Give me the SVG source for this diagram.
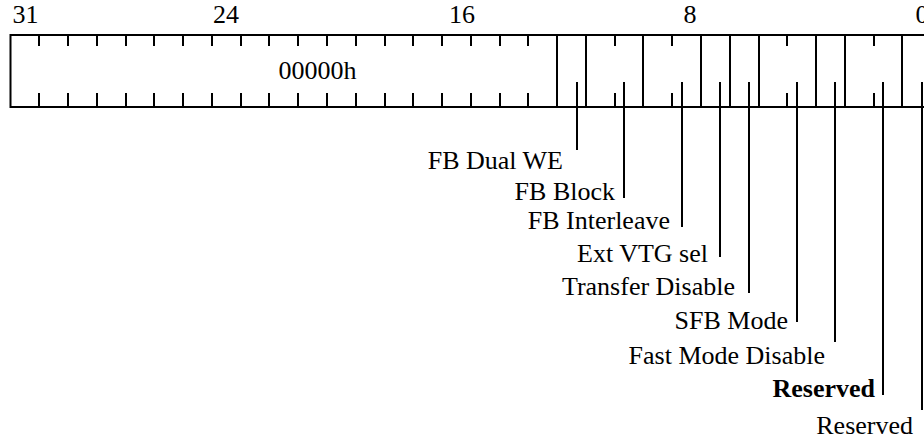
<svg xmlns="http://www.w3.org/2000/svg" width="924" height="439" viewBox="0 0 924 439">
  <style>
    text { font-family: "Liberation Serif", "Times New Roman", serif; font-size: 26px; fill: #000; }
    .num { text-anchor: middle; }
    .lbl { text-anchor: end; }
    .bold { font-weight: bold; }
    .box { fill: #fff; stroke: #000; stroke-width: 2; }
    .tick { stroke: #000; stroke-width: 2; fill: none; }
    .lead { stroke: #000; stroke-width: 2; fill: none; }
  </style>
  <rect width="924" height="439" fill="#fff"/>

  <g id="bit-numbers">
    <text class="num" x="25.5" y="23">31</text>
    <text class="num" x="226" y="23">24</text>
    <text class="num" x="462" y="23">16</text>
    <text class="num" x="690" y="23">8</text>
    <text class="num" x="922" y="23">0</text>
  </g>

  <g id="register">
    <rect class="box" x="10.5" y="35" width="921" height="72"/>
    <path class="tick" d="M39 35v11M39 93v14 M68 35v11M68 93v14 M97 35v11M97 93v14 M126 35v11M126 93v14 M154 35v11M154 93v14 M183 35v11M183 93v14 M212 35v11M212 93v14 M241 35v11M241 93v14 M269 35v11M269 93v14 M298 35v11M298 93v14 M327 35v11M327 93v14 M356 35v11M356 93v14 M385 35v11M385 93v14 M413 35v11M413 93v14 M442 35v11M442 93v14 M471 35v11M471 93v14 M500 35v11M500 93v14 M528 35v11M528 93v14 M615 35v11M615 93v14 M672 35v11M672 93v14 M787 35v11M787 93v14 M874 35v11M874 93v14"/>
    <path class="tick" d="M557 35v72 M586 35v72 M643 35v72 M701 35v72 M730 35v72 M759 35v72 M816 35v72 M845 35v72 M902 35v72"/>
    <text class="num" x="317.5" y="79">00000h</text>
  </g>

  <g id="connectors">
    <path class="lead" d="M577 82V150"/>
    <path class="lead" d="M624 82V198"/>
    <path class="lead" d="M682 82V227"/>
    <path class="lead" d="M720 82V257"/>
    <path class="lead" d="M749 82V293"/>
    <path class="lead" d="M797 82V322"/>
    <path class="lead" d="M835 82V342"/>
    <path class="lead" d="M883 82V395"/>
    <path class="lead" d="M922 82V410"/>
  </g>

  <g id="field-fb-dual-we"><text class="lbl" x="563" y="169">FB Dual WE</text></g>
  <g id="field-fb-block"><text class="lbl" x="615" y="200">FB Block</text></g>
  <g id="field-fb-interleave"><text class="lbl" x="670" y="229">FB Interleave</text></g>
  <g id="field-ext-vtg-sel"><text class="lbl" x="708" y="262">Ext VTG sel</text></g>
  <g id="field-transfer-disable"><text class="lbl" x="735" y="295">Transfer Disable</text></g>
  <g id="field-sfb-mode"><text class="lbl" x="788" y="329">SFB Mode</text></g>
  <g id="field-fast-mode-disable"><text class="lbl" x="825" y="364">Fast Mode Disable</text></g>
  <g id="field-reserved-2-1"><text class="lbl bold" x="875" y="397">Reserved</text></g>
  <g id="field-reserved-0"><text class="lbl" x="913" y="434">Reserved</text></g>
</svg>
